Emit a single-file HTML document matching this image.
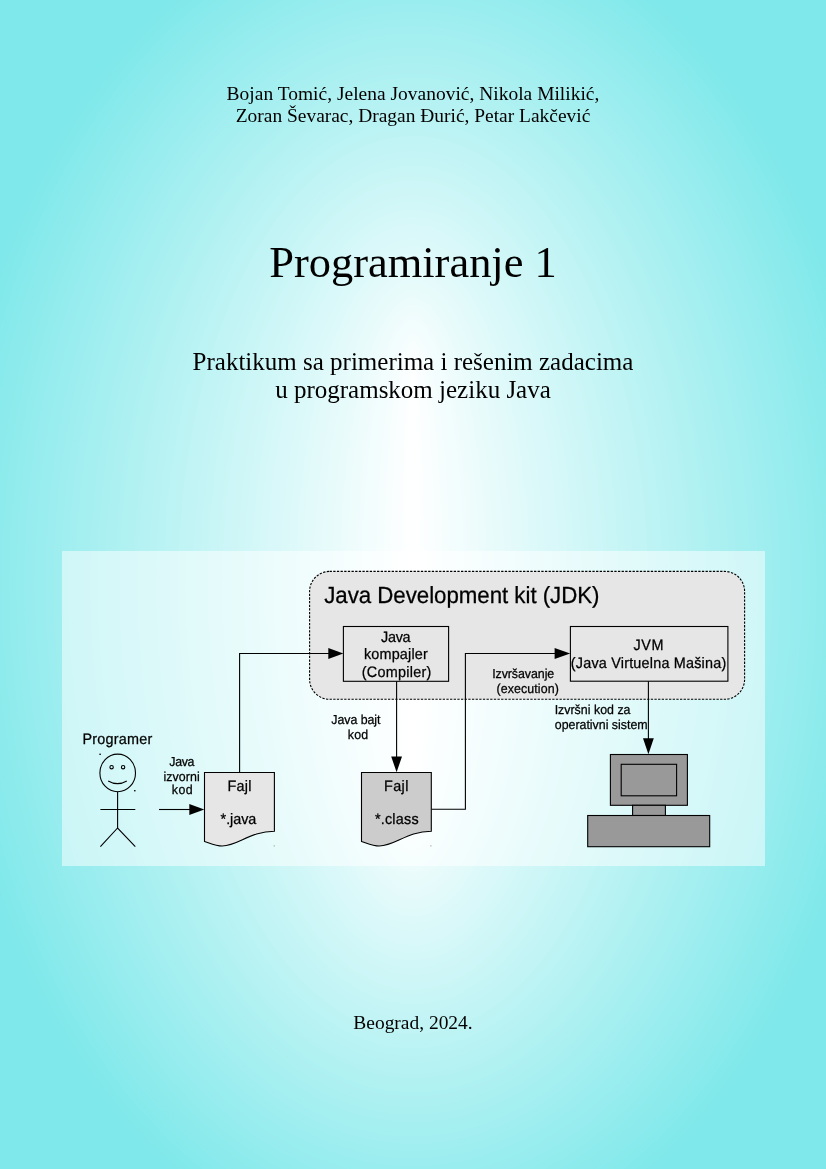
<!DOCTYPE html>
<html lang="sr">
<head>
<meta charset="utf-8">
<title>Programiranje 1</title>
<style>
html,body{margin:0;padding:0;}
body{width:826px;height:1169px;position:relative;overflow:hidden;
  background:#7fe8ea;
  font-family:"Liberation Serif",serif;color:#000;}
.t{position:absolute;left:0;width:826px;text-align:center;white-space:nowrap;margin:0;will-change:transform;}
.auth{font-size:19.44px;line-height:22px;}
#a1{letter-spacing:0.02px;}
#a1{top:83px;}
#a2{top:105px;}
#title{font-size:44.44px;line-height:50px;top:237px;}
.sub{font-size:25px;line-height:28px;}
#s1{top:348px;}
#s2{top:375.5px;}
#city{font-size:19.44px;line-height:22px;top:1012px;}
#panel{position:absolute;left:62px;top:551px;width:703px;height:315px;background:rgba(255,255,255,0.5);}
svg{position:absolute;left:0;top:0;}
#dia{will-change:transform;}
svg text{font-family:"Liberation Sans",sans-serif;fill:#000;text-rendering:geometricPrecision;}
</style>
</head>
<body>
<svg id="bg" width="826" height="1169" viewBox="0 0 826 1169"><g transform="translate(413 585)"><ellipse rx="470.0" ry="684.0" fill="#80e8ea"/><ellipse rx="466.3" ry="680.3" fill="#80e8ea"/><ellipse rx="462.7" ry="676.7" fill="#82e8ea"/><ellipse rx="459.0" ry="673.0" fill="#82e9eb"/><ellipse rx="455.3" ry="669.3" fill="#84e9eb"/><ellipse rx="451.6" ry="665.6" fill="#84e9eb"/><ellipse rx="448.0" ry="662.0" fill="#86e9eb"/><ellipse rx="444.3" ry="658.3" fill="#86e9eb"/><ellipse rx="440.6" ry="654.6" fill="#88eaeb"/><ellipse rx="437.0" ry="651.0" fill="#88eaec"/><ellipse rx="433.3" ry="647.3" fill="#8aeaec"/><ellipse rx="429.6" ry="643.6" fill="#8aeaec"/><ellipse rx="425.9" ry="639.9" fill="#8ceaec"/><ellipse rx="422.3" ry="636.3" fill="#8ceaec"/><ellipse rx="418.6" ry="632.6" fill="#8eebec"/><ellipse rx="414.9" ry="628.9" fill="#8eebed"/><ellipse rx="411.2" ry="625.2" fill="#90ebed"/><ellipse rx="407.6" ry="621.6" fill="#90ebed"/><ellipse rx="403.9" ry="617.9" fill="#92ebed"/><ellipse rx="400.2" ry="614.2" fill="#92eced"/><ellipse rx="396.6" ry="610.6" fill="#94eced"/><ellipse rx="392.9" ry="606.9" fill="#94ecee"/><ellipse rx="389.2" ry="603.2" fill="#96ecee"/><ellipse rx="385.5" ry="599.5" fill="#96ecee"/><ellipse rx="381.9" ry="595.9" fill="#98ecee"/><ellipse rx="378.2" ry="592.2" fill="#98edee"/><ellipse rx="374.5" ry="588.5" fill="#9aedee"/><ellipse rx="370.9" ry="584.9" fill="#9aedef"/><ellipse rx="367.2" ry="581.2" fill="#9cedef"/><ellipse rx="363.5" ry="577.5" fill="#9cedef"/><ellipse rx="359.8" ry="573.8" fill="#9eedef"/><ellipse rx="356.2" ry="570.2" fill="#9eeeef"/><ellipse rx="352.5" ry="566.5" fill="#a0eeef"/><ellipse rx="348.8" ry="562.8" fill="#a0eeef"/><ellipse rx="345.2" ry="559.2" fill="#a2eef0"/><ellipse rx="341.5" ry="555.5" fill="#a2eef0"/><ellipse rx="337.8" ry="551.8" fill="#a4eff0"/><ellipse rx="334.1" ry="548.1" fill="#a4eff0"/><ellipse rx="330.5" ry="544.5" fill="#a6eff0"/><ellipse rx="326.8" ry="540.8" fill="#a6eff0"/><ellipse rx="323.1" ry="537.1" fill="#a8eff1"/><ellipse rx="319.5" ry="533.5" fill="#a8eff1"/><ellipse rx="315.8" ry="529.8" fill="#aaf0f1"/><ellipse rx="312.1" ry="526.1" fill="#aaf0f1"/><ellipse rx="308.4" ry="522.4" fill="#acf0f1"/><ellipse rx="304.8" ry="518.8" fill="#acf0f1"/><ellipse rx="301.1" ry="515.1" fill="#aef0f2"/><ellipse rx="297.4" ry="511.4" fill="#aef1f2"/><ellipse rx="293.8" ry="507.8" fill="#b0f1f2"/><ellipse rx="290.1" ry="504.1" fill="#b0f1f2"/><ellipse rx="286.4" ry="500.4" fill="#b2f1f2"/><ellipse rx="282.7" ry="496.7" fill="#b2f1f2"/><ellipse rx="279.1" ry="493.1" fill="#b4f1f3"/><ellipse rx="275.4" ry="489.4" fill="#b4f2f3"/><ellipse rx="271.7" ry="485.7" fill="#b6f2f3"/><ellipse rx="268.0" ry="482.0" fill="#b6f2f3"/><ellipse rx="264.4" ry="478.4" fill="#b8f2f3"/><ellipse rx="260.7" ry="474.7" fill="#b8f2f3"/><ellipse rx="257.0" ry="471.0" fill="#baf3f4"/><ellipse rx="253.4" ry="467.4" fill="#baf3f4"/><ellipse rx="249.7" ry="463.7" fill="#bcf3f4"/><ellipse rx="246.0" ry="460.0" fill="#bcf3f4"/><ellipse rx="242.3" ry="456.3" fill="#bef3f4"/><ellipse rx="238.7" ry="452.7" fill="#bef3f4"/><ellipse rx="235.0" ry="449.0" fill="#c0f4f5"/><ellipse rx="231.3" ry="445.3" fill="#c0f4f5"/><ellipse rx="227.7" ry="441.7" fill="#c2f4f5"/><ellipse rx="224.0" ry="438.0" fill="#c2f4f5"/><ellipse rx="220.3" ry="434.3" fill="#c4f4f5"/><ellipse rx="216.6" ry="430.6" fill="#c4f4f5"/><ellipse rx="213.0" ry="427.0" fill="#c6f5f6"/><ellipse rx="209.3" ry="423.3" fill="#c6f5f6"/><ellipse rx="205.6" ry="419.6" fill="#c8f5f6"/><ellipse rx="202.0" ry="416.0" fill="#c8f5f6"/><ellipse rx="198.3" ry="412.3" fill="#caf5f6"/><ellipse rx="194.6" ry="408.6" fill="#caf6f6"/><ellipse rx="190.9" ry="404.9" fill="#ccf6f7"/><ellipse rx="187.3" ry="401.3" fill="#ccf6f7"/><ellipse rx="183.6" ry="397.6" fill="#cef6f7"/><ellipse rx="179.9" ry="393.9" fill="#cef6f7"/><ellipse rx="176.2" ry="390.2" fill="#d0f6f7"/><ellipse rx="172.6" ry="386.6" fill="#d0f7f7"/><ellipse rx="168.9" ry="382.9" fill="#d2f7f8"/><ellipse rx="165.2" ry="379.2" fill="#d2f7f8"/><ellipse rx="161.6" ry="375.6" fill="#d4f7f8"/><ellipse rx="157.9" ry="371.9" fill="#d4f7f8"/><ellipse rx="154.2" ry="368.2" fill="#d6f8f8"/><ellipse rx="150.5" ry="364.5" fill="#d6f8f8"/><ellipse rx="146.9" ry="360.9" fill="#d8f8f9"/><ellipse rx="143.2" ry="357.2" fill="#d8f8f9"/><ellipse rx="139.5" ry="353.5" fill="#daf8f9"/><ellipse rx="135.9" ry="349.9" fill="#daf8f9"/><ellipse rx="132.2" ry="346.2" fill="#dcf9f9"/><ellipse rx="128.5" ry="342.5" fill="#dcf9f9"/><ellipse rx="124.8" ry="338.8" fill="#def9fa"/><ellipse rx="121.2" ry="335.2" fill="#def9fa"/><ellipse rx="117.5" ry="331.5" fill="#e0f9fa"/><ellipse rx="113.8" ry="327.8" fill="#e0fafa"/><ellipse rx="110.2" ry="324.2" fill="#e2fafa"/><ellipse rx="106.5" ry="320.5" fill="#e2fafa"/><ellipse rx="102.8" ry="316.8" fill="#e4fafa"/><ellipse rx="99.1" ry="313.1" fill="#e4fafb"/><ellipse rx="95.5" ry="309.5" fill="#e6fafb"/><ellipse rx="91.8" ry="305.8" fill="#e6fbfb"/><ellipse rx="88.1" ry="302.1" fill="#e8fbfb"/><ellipse rx="84.5" ry="298.5" fill="#e8fbfb"/><ellipse rx="80.8" ry="294.8" fill="#eafbfb"/><ellipse rx="77.1" ry="291.1" fill="#eafbfc"/><ellipse rx="73.4" ry="287.4" fill="#ecfbfc"/><ellipse rx="69.8" ry="283.8" fill="#ecfcfc"/><ellipse rx="66.1" ry="280.1" fill="#eefcfc"/><ellipse rx="62.4" ry="276.4" fill="#eefcfc"/><ellipse rx="58.8" ry="272.8" fill="#f0fcfc"/><ellipse rx="55.1" ry="269.1" fill="#f0fcfd"/><ellipse rx="51.4" ry="265.4" fill="#f2fdfd"/><ellipse rx="47.7" ry="261.7" fill="#f2fdfd"/><ellipse rx="44.1" ry="258.1" fill="#f4fdfd"/><ellipse rx="40.4" ry="254.4" fill="#f4fdfd"/><ellipse rx="36.7" ry="250.7" fill="#f6fdfd"/><ellipse rx="33.0" ry="247.0" fill="#f6fdfe"/><ellipse rx="29.4" ry="243.4" fill="#f8fefe"/><ellipse rx="25.7" ry="239.7" fill="#f8fefe"/><ellipse rx="22.0" ry="236.0" fill="#fafefe"/><ellipse rx="18.4" ry="232.4" fill="#fafefe"/><ellipse rx="14.7" ry="228.7" fill="#fcfefe"/><ellipse rx="11.0" ry="225.0" fill="#fcffff"/><ellipse rx="7.3" ry="221.3" fill="#feffff"/><ellipse rx="3.7" ry="217.7" fill="#feffff"/></g></svg>
<div class="t auth" id="a1">Bojan Tomić, Jelena Jovanović, Nikola Milikić,</div>
<div class="t auth" id="a2">Zoran Ševarac, Dragan Đurić, Petar Lakčević</div>
<div class="t" id="title">Programiranje 1</div>
<div class="t sub" id="s1">Praktikum sa primerima i rešenim zadacima</div>
<div class="t sub" id="s2">u programskom jeziku Java</div>
<div id="panel"></div>
<svg id="dia" width="826" height="1169" viewBox="0 0 826 1169">
  <!-- JDK box -->
  <rect x="309.6" y="571.4" width="435" height="127.9" rx="20" ry="20" fill="#e6e6e6" stroke="#000" stroke-width="1.1" stroke-dasharray="2.3 1.35"/>
  <!-- compiler box -->
  <rect x="343.4" y="626.5" width="105.2" height="54.8" fill="#e6e6e6" stroke="#000" stroke-width="1.1"/>
  <!-- JVM box -->
  <rect x="570.4" y="626.5" width="157.5" height="54.7" fill="#e6e6e6" stroke="#000" stroke-width="1.1"/>
  <!-- connectors -->
  <g fill="none" stroke="#000" stroke-width="1.1">
    <path d="M159 809.5H190"/>
    <path d="M239.6 772.5V653.5H329"/>
    <path d="M396.6 681.3V757"/>
    <path d="M431.5 809.3H465.4V653.5H555"/>
    <path d="M648.4 681.2V739"/>
  </g>
  <g fill="#000" stroke="none">
    <path d="M189.3 804.1L204.3 809.5L189.3 814.9Z"/>
    <path d="M328.3 648.1L343.3 653.5L328.3 658.9Z"/>
    <path d="M391.2 756.4L402 756.4L396.6 772.2Z"/>
    <path d="M554.6 648.1L570.2 653.5L554.6 658.9Z"/>
    <path d="M643 738.2L653.8 738.2L648.4 754.2Z"/>
  </g>
  <!-- stick figure -->
  <g fill="none" stroke="#000" stroke-width="1.1">
    <ellipse cx="117.7" cy="772.9" rx="17.8" ry="18.8"/>
    <circle cx="111.6" cy="767.2" r="1.7"/>
    <circle cx="123.1" cy="767.2" r="1.7"/>
    <path d="M108.2 780.9Q117.5 786.3 126.8 780.9"/>
    <path d="M117.6 791.7V828"/>
    <path d="M100.4 809.5H135.3"/>
    <path d="M100.4 846.7L117.6 828L135.3 846.7"/>
  </g>
  <rect x="99.4" y="753.6" width="1.4" height="1.4" fill="#000"/>
  <rect x="134.1" y="790.0" width="1.4" height="1.4" fill="#000"/>
  <!-- java file -->
  <path d="M204.5 772.5H274.4V831.2C250 831.2 238 846 222.3 846C216 846 210 843.2 204.5 841.4Z" fill="#e6e6e6" stroke="#000" stroke-width="1.1"/>
  <rect x="273.7" y="845.4" width="1" height="1" fill="#555" opacity="0.7"/>
  <!-- class file -->
  <path d="M361.5 772.5H431.3V831.2C407 831.2 395 846 379.3 846C373 846 367 843.2 361.5 841.4Z" fill="#cccccc" stroke="#000" stroke-width="1.1"/>
  <rect x="430.4" y="845.4" width="1" height="1" fill="#555" opacity="0.7"/>
  <!-- computer -->
  <g fill="#999999" stroke="#000" stroke-width="1.1">
    <rect x="610.4" y="754.5" width="77" height="50.8"/>
    <rect x="621.2" y="764.3" width="55.4" height="31.5"/>
    <rect x="632.6" y="805.3" width="32.8" height="10.2"/>
    <rect x="587.7" y="815.5" width="122" height="31.2"/>
  </g>
  <!-- labels -->
  <g id="labels" stroke="#000" stroke-width="0.25">
    <text transform="matrix(1 0 0 1.05 0 -30.13)" x="324.24" y="602.6" font-size="22.3" letter-spacing="-0.043">Java Development kit (JDK)</text>
    <text transform="matrix(1 0 0 1.05 0 -32.09)" x="381.00" y="641.8" font-size="14.4" letter-spacing="-0.262">Java</text>
    <text transform="matrix(1 0 0 1.05 0 -32.95)" x="363.91" y="658.9" font-size="14.4" letter-spacing="0.191">kompajler</text>
    <text transform="matrix(1 0 0 1.05 0 -33.84)" x="361.73" y="676.7" font-size="14.4" letter-spacing="0.266">(Compiler)</text>
    <text transform="matrix(1 0 0 1.05 0 -32.48)" x="633.58" y="649.6" font-size="14.4" letter-spacing="0.518">JVM</text>
    <text transform="matrix(1 0 0 1.05 0 -33.39)" x="570.79" y="667.7" font-size="14.4" letter-spacing="0.206">(Java Virtuelna Mašina)</text>
    <text transform="matrix(1 0 0 1.05 0 -37.18)" x="82.39" y="743.6" font-size="14.4" letter-spacing="0.251">Programer</text>
    <text transform="matrix(1 0 0 1.05 0 -38.29)" x="169.27" y="765.7" font-size="12.4" letter-spacing="-0.323">Java</text>
    <text transform="matrix(1 0 0 1.05 0 -39.03)" x="163.56" y="780.6" font-size="12.4" letter-spacing="0.061">izvorni</text>
    <text transform="matrix(1 0 0 1.05 0 -39.71)" x="171.72" y="794.1" font-size="12.4" letter-spacing="0.514">kod</text>
    <text transform="matrix(1 0 0 1.05 0 -36.18)" x="331.27" y="723.6" font-size="12.4" letter-spacing="-0.046">Java bajt</text>
    <text transform="matrix(1 0 0 1.05 0 -36.93)" x="347.72" y="738.6" font-size="12.4" letter-spacing="0.265">kod</text>
    <text transform="matrix(1 0 0 1.05 0 -33.89)" x="492.13" y="677.7" font-size="12.4" letter-spacing="-0.057">Izvršavanje</text>
    <text transform="matrix(1 0 0 1.05 0 -34.65)" x="496.49" y="693.0" font-size="12.4" letter-spacing="0.099">(execution)</text>
    <text transform="matrix(1 0 0 1.05 0 -35.72)" x="554.63" y="714.3" font-size="12.4" letter-spacing="0.008">Izvršni kod za</text>
    <text transform="matrix(1 0 0 1.05 0 -36.47)" x="554.75" y="729.4" font-size="12.4" letter-spacing="-0.008">operativni sistem</text>
    <text transform="matrix(1 0 0 1.05 0 -39.54)" x="227.44" y="790.7" font-size="14.4" letter-spacing="0.257">Fajl</text>
    <text transform="matrix(1 0 0 1.05 0 -41.22)" x="220.58" y="824.4" font-size="14.4" letter-spacing="-0.049">*.java</text>
    <text transform="matrix(1 0 0 1.05 0 -39.54)" x="384.04" y="790.7" font-size="14.4" letter-spacing="0.392">Fajl</text>
    <text transform="matrix(1 0 0 1.05 0 -41.23)" x="374.89" y="824.5" font-size="14.4" letter-spacing="0.232">*.class</text>
  </g>
</svg>
<div class="t" id="city">Beograd, 2024.</div>
</body>
</html>
